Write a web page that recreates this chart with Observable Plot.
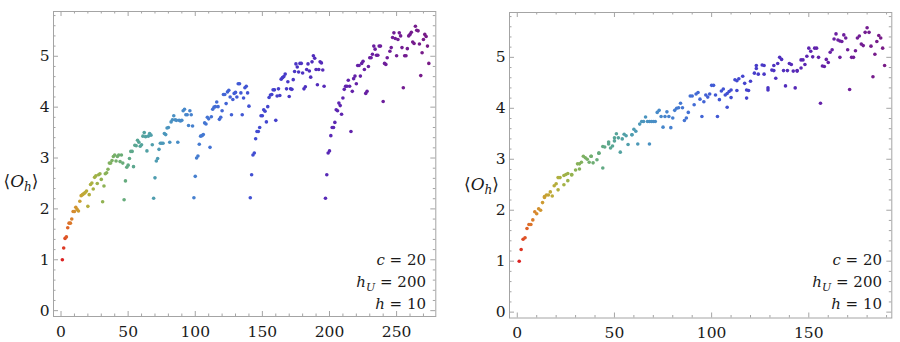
<!DOCTYPE html>
<html><head><meta charset="utf-8">
<script src="https://cdn.jsdelivr.net/npm/d3@7"></script>
<script src="https://cdn.jsdelivr.net/npm/@observablehq/plot@0.6"></script>
<style>
body{margin:0;background:#fff;}
#wrap{display:flex;width:900px;height:342px;overflow:hidden;}
#wrap > div{width:450px;height:342px;}
svg text, svg tspan{font-family:"DejaVu Serif",serif !important;}
</style></head><body><div id="wrap"><div id="left"></div><div id="right"></div></div>
<script>
// ---------- data ----------
const leftX = [1,2,3,4,5,6,7,8,9,10,11,12,13,14,15,16,17,18,19,20,21,22,23,24,25,26,27,28,29,30,
31,32,33,34,35,36,37,38,39,40,41,42,43,44,45,46,47,48,49,50,51,52,53,54,55,56,57,58,59,60,
61,62,63,64,65,66,67,68,69,70,71,72,73,74,75,76,77,78,79,80,81,82,83,84,85,86,87,88,89,90,
91,92,93,94,95,96,97,98,99,100,101,102,103,104,105,106,107,108,109,110,111,112,113,114,115,116,117,118,119,120,
121,122,123,124,125,126,127,128,129,130,131,132,133,134,135,136,137,138,139,140,141,142,143,144,145,146,147,148,149,150,
151,152,153,154,155,156,157,158,159,160,161,162,163,164,165,166,167,168,169,170,171,172,173,174,175,176,177,178,179,180,
181,182,183,184,185,186,187,188,189,190,191,192,193,194,195,196,197,198,199,200,201,202,203,204,205,206,207,208,209,210,
211,212,213,214,215,216,217,218,219,220,221,222,223,224,225,226,227,228,229,230,231,232,233,234,235,236,237,238,240,
241,242,243,245,246,247,248,249,250,251,252,253,254,255,256,257,258,259,260,261,262,263,264,265,266,267,268,269,270,
271,272,273,274];
const leftY = [1.00,1.23,1.42,1.45,1.63,1.72,1.72,1.80,1.95,1.95,2.03,1.99,1.96,2.15,2.26,2.28,2.30,2.32,2.35,2.05,
2.28,2.48,2.51,2.39,2.62,2.65,2.50,2.67,2.69,2.58,2.14,2.45,2.69,2.71,2.78,2.90,2.90,2.95,3.03,3.06,
2.94,3.03,3.06,2.93,3.06,2.90,2.18,2.55,2.82,2.86,2.99,3.13,3.13,2.83,3.25,3.24,3.35,3.31,3.23,3.26,
3.43,3.50,3.42,3.14,3.43,3.48,3.45,3.26,2.21,2.61,2.94,2.99,3.17,3.29,3.29,3.29,3.48,3.46,3.59,3.60,
3.31,3.71,3.75,3.83,3.75,3.74,3.31,3.74,3.73,3.74,3.93,3.96,3.85,3.85,3.64,3.93,3.85,3.63,2.22,2.64,
3.00,3.04,3.27,3.43,3.44,3.46,3.69,3.67,3.80,3.77,3.21,3.81,3.96,4.00,4.01,4.10,4.01,3.76,3.80,3.93,
4.25,4.25,4.07,4.30,4.33,4.20,3.85,4.15,4.27,4.29,4.20,4.46,4.46,4.28,3.85,4.18,4.38,4.41,4.28,4.02,
2.22,2.67,3.06,3.10,3.38,3.52,3.52,3.60,3.83,3.83,3.95,3.92,3.71,4.01,4.19,4.24,4.25,4.34,4.34,3.74,
4.22,4.36,4.23,4.55,4.58,4.60,4.65,4.36,4.50,4.21,4.36,4.35,4.54,4.70,4.85,4.79,4.69,4.86,4.86,4.67,
4.36,4.40,4.74,4.85,4.71,4.59,4.89,5.01,4.96,4.74,4.44,4.74,4.89,4.87,4.73,4.41,2.21,2.67,3.10,3.14,
3.44,3.60,3.60,3.70,3.95,3.93,4.08,4.03,3.86,4.18,4.35,4.41,4.41,4.53,4.41,3.52,4.31,4.56,4.61,4.46,
4.82,4.82,4.61,4.86,4.90,4.74,4.27,4.31,4.80,4.97,4.97,5.04,5.20,5.14,5.02,5.02,5.20,5.20,4.11,
4.86,4.84,4.97,5.10,5.17,5.37,5.46,5.35,5.01,5.33,5.46,5.40,5.17,4.38,5.01,5.01,5.15,5.40,5.43,5.47,
5.28,5.25,5.59,5.51,5.50,5.24,4.62,5.07,5.33,5.43,5.39,5.20,4.86];

const rightX = [1,2,3,4,5,6,7,8,9,10,11,12,13,14,14,15,16,17,18,19,20,21,21,22,24,24,25,26,26,28,
28,30,31,32,32,33,34,35,36,37,38,38,39,41,42,42,44,44,45,47,47,48,49,50,50,51,52,53,54,55,
56,57,59,59,60,61,62,63,64,65,66,67,68,68,69,70,71,72,73,74,75,76,77,78,79,80,81,82,83,84,
85,86,87,88,89,90,91,92,93,94,95,96,97,98,99,100,101,102,103,104,105,106,107,108,108,109,110,110,112,113,
113,114,116,117,118,118,119,120,122,123,123,124,126,127,127,129,129,131,132,132,133,134,135,136,137,138,139,140,141,142,
143,144,144,146,146,147,148,149,150,151,152,153,154,155,156,157,158,159,160,161,162,163,164,165,166,166,167,168,169,170,
171,172,173,174,175,176,177,178,179,180,181,182,183,184,185,186,187,188,189];
const rightY = [1.00,1.23,1.43,1.46,1.64,1.72,1.72,1.81,1.97,1.93,2.03,2.00,2.15,2.25,2.27,2.30,2.30,2.36,2.28,2.48,
2.52,2.40,2.64,2.64,2.50,2.68,2.70,2.72,2.58,2.69,2.70,2.79,2.91,2.91,2.81,2.94,3.06,3.03,3.00,2.94,
3.06,3.06,2.93,2.99,3.12,3.12,2.83,3.25,3.24,3.34,3.30,3.22,3.26,3.36,3.42,3.50,3.42,3.14,3.40,3.49,
3.46,3.29,3.48,3.48,3.59,3.55,3.30,3.69,3.74,3.74,3.83,3.74,3.74,3.30,3.74,3.74,3.74,3.92,3.96,3.84,
3.63,3.84,3.93,3.84,3.62,3.81,3.96,4.00,4.01,4.10,4.01,3.76,3.81,3.92,4.24,4.24,4.07,4.28,4.31,4.18,
3.84,4.13,4.26,4.22,4.28,4.45,4.45,4.26,3.84,4.17,4.34,4.38,4.26,4.02,4.29,4.33,4.36,4.21,4.56,4.54,
4.35,4.58,4.63,4.49,4.20,4.36,4.35,4.53,4.69,4.84,4.78,4.67,4.85,4.84,4.67,4.36,4.40,4.75,4.84,4.74,
4.59,4.88,5.00,4.96,4.74,4.44,4.74,4.88,4.86,4.73,4.40,4.73,4.74,4.79,4.95,4.95,4.86,5.02,5.18,5.12,
5.01,5.18,5.18,5.00,4.10,4.83,4.82,4.96,4.90,5.10,5.15,5.36,5.46,5.34,5.32,5.00,5.31,5.44,5.38,5.15,
4.37,5.00,5.00,5.13,5.38,5.42,5.26,5.23,5.49,5.58,5.49,5.22,4.62,5.06,5.31,5.43,5.38,5.18,4.84];

const leftXTicks = [0, 50, 100, 150, 200, 250];
const rightXTicks = [0, 50, 100, 150];
const yTicks = [0, 1, 2, 3, 4, 5];
const paramNames = ["c", "h", "h"];
const paramSubs = ["", "U", ""];
const paramValues = [20, 200, 10];

// ---------- style ----------
const FONT = "DejaVu Serif";
const GRAY = "#a4a4a4";
const rainbow = d3.interpolateRgbBasis(["#dc2222","#e27a29","#c4b034","#8db54f","#58a98a","#4a9ac0","#4478d6","#3f4fd6","#4a2fc2","#6a1ea6","#781b86"]);

function panel(el, cfg) {
  const W = 450, H = 342, m = cfg.margin;
  const fw = W - m.left - m.right, fh = H - m.top - m.bottom;
  const data = cfg.xs.map((x, i) => ({x, y: cfg.ys[i]}));
  const xMinor = d3.range(0, cfg.xDomain[1], 10).filter(v => v % 50 !== 0);
  const yMinor = d3.range(1, 30).map(i => i / 5).filter(v => Math.abs(v - Math.round(v)) > 1e-6);
  const tk = {stroke: GRAY, strokeWidth: 1};
  const svg = Plot.plot({
    width: W, height: H,
    marginLeft: m.left, marginRight: m.right, marginTop: m.top, marginBottom: m.bottom,
    x: {domain: cfg.xDomain},
    y: {domain: [-0.115, 5.88]},
    color: {type: "pow", exponent: cfg.exponent, domain: cfg.colorDomain, interpolate: rainbow},
    style: {fontFamily: FONT, fontSize: "15.5px", color: "#1a1a1a", background: "white"},
    marks: [
      Plot.tickX(xMinor, {x: d => d, insetTop: fh - 2.5, ...tk}),
      Plot.tickX(xMinor, {x: d => d, insetBottom: fh - 2.5, ...tk}),
      Plot.tickX(cfg.xTicks, {x: d => d, insetTop: fh - 5, ...tk}),
      Plot.tickX(cfg.xTicks, {x: d => d, insetBottom: fh - 5, ...tk}),
      Plot.tickY(yMinor, {y: d => d, insetRight: fw - 2.5, ...tk}),
      Plot.tickY(yMinor, {y: d => d, insetLeft: fw - 2.5, ...tk}),
      Plot.tickY(yTicks, {y: d => d, insetRight: fw - 5, ...tk}),
      Plot.tickY(yTicks, {y: d => d, insetLeft: fw - 5, ...tk}),
      Plot.frame({stroke: GRAY, strokeWidth: 1}),
      Plot.dot(data, {x: "x", y: "y", r: 1.8, fill: "x", stroke: null}),
      Plot.axisX(cfg.xTicks, {tickSize: 0, tickPadding: 9, label: null, fontSize: 15.5, tickFormat: d => String(d)}),
      Plot.axisY(yTicks, {tickSize: 0, tickPadding: 4, label: null, fontSize: 15.5, tickFormat: d => String(d)})
    ]
  });
  const s = d3.select(svg);
  // y-axis label <O_h>
  const lab = s.append("text").attr("x", cfg.labelX).attr("y", cfg.labelY)
    .attr("text-anchor", "middle").attr("font-size", 17).attr("fill", "#1a1a1a");
  lab.append("tspan").text("\u27E8");
  lab.append("tspan").attr("font-style", "italic").text("O");
  lab.append("tspan").attr("font-style", "italic").attr("font-size", 12).attr("dy", 4).text("h");
  lab.append("tspan").attr("dy", -4).text("\u27E9");
  // parameter annotations
  const base = [264.5, 287, 309];
  paramNames.forEach((n, i) => {
    const t = s.append("text").attr("x", cfg.annX).attr("y", base[i])
      .attr("text-anchor", "end").attr("font-size", 15).attr("fill", "#1a1a1a");
    t.append("tspan").attr("font-style", "italic").text(n);
    if (paramSubs[i]) {
      t.append("tspan").attr("font-style", "italic").attr("font-size", 11).attr("dy", 4).text(paramSubs[i]);
      t.append("tspan").attr("dy", -4).text(" = " + paramValues[i]);
    } else {
      t.append("tspan").text(" = " + paramValues[i]);
    }
  });
  el.appendChild(svg);
}

panel(document.getElementById("left"), {
  xs: leftX, ys: leftY, xTicks: leftXTicks, xDomain: [-5.6, 279.2],
  colorDomain: [1, 274], exponent: 0.5,
  margin: {left: 53, right: 14.7, top: 11, bottom: 26},
  labelX: 21, labelY: 187, annX: 426
});
panel(document.getElementById("right"), {
  xs: rightX, ys: rightY, xTicks: rightXTicks, xDomain: [-4, 192.7],
  colorDomain: [1, 189], exponent: 0.6,
  margin: {left: 59, right: 8.7, top: 12, bottom: 24.5},
  labelX: 31.5, labelY: 190, annX: 432
});
</script>
</body></html>
